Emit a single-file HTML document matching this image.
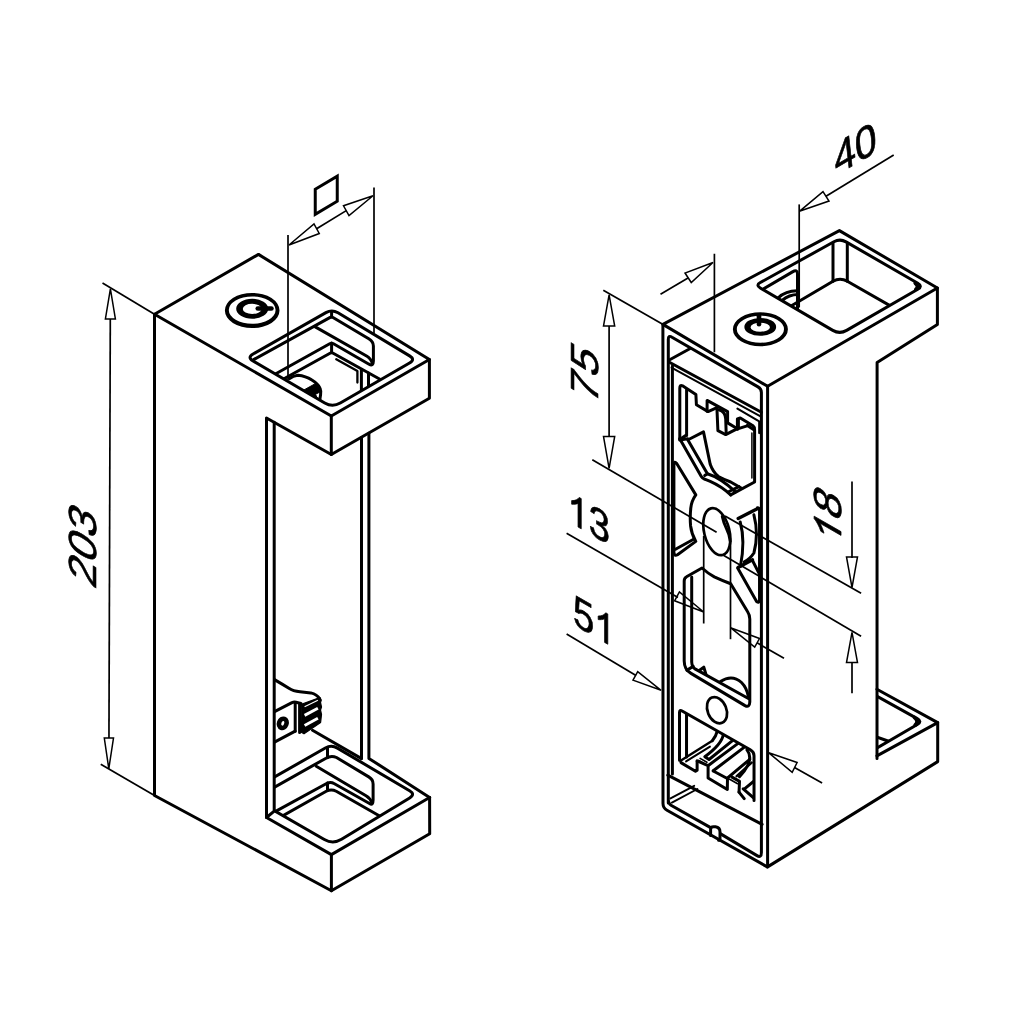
<!DOCTYPE html>
<html><head><meta charset="utf-8"><title>drawing</title>
<style>
html,body{margin:0;padding:0;background:#fff;}
svg{display:block;filter:grayscale(1)}
.k{fill:none;stroke:#000;stroke-width:3.0;stroke-linejoin:round;stroke-linecap:round}
.t{fill:none;stroke:#000;stroke-width:1.7;stroke-linecap:butt}
.a{fill:none;stroke:#000;stroke-width:1.5;stroke-linejoin:miter}
text{font-family:"Liberation Sans",sans-serif;fill:#000;stroke:#000;stroke-width:0.7;stroke-linejoin:round}
</style></head><body>
<svg width="1024" height="1024" viewBox="0 0 1024 1024">
<rect width="1024" height="1024" fill="#fff"/>
<g id="left">
<path class="k" d="M154.50,314.20 L258.50,254.40 L429.40,359.50 L331.30,416.00 Z" />
<path class="k" d="M331.30,416.00 L331.30,454.50 L429.40,398.30 L429.40,359.50" />
<path class="k" d="M331.30,454.50 L266.50,418.00 L266.50,817.50 L331.40,854.60 L429.60,797.50" />
<path class="k" d="M154.50,314.20 L154.50,795.50 L331.40,890.70 L429.70,833.80 L429.60,797.50" />
<path class="k" d="M331.40,854.60 L331.40,890.70" />
<path class="k" d="M274.20,422.30 L274.20,811.20 L266.50,817.50" />
<path class="k" d="M361.50,437.50 L361.50,758.60" />
<path class="k" d="M368.90,433.20 L368.90,758.40 L429.60,797.50" />
<path class="k" d="M312.50,730.30 L361.50,758.60" />
<clipPath id="hc0"><path d="M253.04,360.94 Q247.00,357.40 253.09,353.95 L325.91,312.65 Q332.00,309.20 338.00,312.81 L409.60,355.89 Q415.60,359.50 409.54,363.00 L340.29,403.00 Q332.50,407.50 324.73,402.95 Z"/></clipPath>
<g clip-path="url(#hc0)">
<path class="k" d="M253.60,359.60 L330.20,317.40 Q331.60,316.60 333.00,317.50 L368.75,338.75 Q373.40,341.50 373.40,346.00 L373.40,361.00 Q373.40,366.50 369.00,364.20 L333.50,343.80 Q331.60,342.70 329.70,343.80 L270.00,377.00" />
<path class="k" d="M315.25,326.90 L367.00,356.30 Q371.00,358.60 372.50,364.00" />
<path class="k" d="M270.00,386.50 L330.00,353.30 Q331.60,352.40 333.20,353.30 L384.00,381.50" />
<path class="k" d="M331.60,310.00 L331.60,316.90 M331.60,343.10 L331.60,352.50" />
<path class="k" d="M336.25,359.20 L357.40,371.00 L357.40,382.50" style="stroke-width:2.3"/>
<path class="k" d="M361.40,369.40 L361.40,392.00 M368.50,373.10 L368.50,388.00" />
<path class="k" d="M289.50,378.60 Q293.00,375.60 297.80,375.20 Q306.00,376.00 311.50,379.80 Q317.50,383.60 319.60,387.40 Q321.30,391.00 320.60,394.50 L319.80,400.00" />
<path d="M303.50,390.20 L316.10,383.20 L320.80,387.80 L320.90,391.60 L315.60,394.20 L317.20,398.60 L313.00,396.40 L312.50,394.80 Z" fill="#000" stroke="#000" stroke-width="1"/>
</g>
<path class="k" d="M253.04,360.94 Q247.00,357.40 253.09,353.95 L325.91,312.65 Q332.00,309.20 338.00,312.81 L409.60,355.89 Q415.60,359.50 409.54,363.00 L340.29,403.00 Q332.50,407.50 324.73,402.95 Z" />
<clipPath id="bh"><path d="M250.53,797.04 Q244.90,793.80 250.55,790.59 L325.32,748.06 Q331.40,744.60 337.43,748.16 L409.57,790.74 Q415.60,794.30 409.62,797.94 L341.55,839.31 Q333.00,844.50 324.33,839.51 Z"/></clipPath>
<clipPath id="bhb"><rect x="274.2" y="700" width="200" height="200"/></clipPath>
<g clip-path="url(#bhb)"><g clip-path="url(#bh)">
<path class="k" d="M270,789.7 L326,758.2 Q331.25,755 336.5,757.5 L368.75,776.9 Q373.1,779.5 373.1,784 L373.1,800 Q373.1,806 369.5,803.5 L334,783.5 Q331,781.6 327.5,783 L270,814.5" />
<path class="k" d="M327.5,747 L327.5,757.5 M327.5,783.1 L327.5,790.3" />
<path class="k" d="M316.25,766.25 L366,795.8 Q370.5,798.5 372,803" />
<path class="k" d="M270,823 L326.25,791.25 Q331.25,788.8 336.25,791.25 L384,818.5" />
</g>
<path class="k" d="M250.53,797.04 Q244.90,793.80 250.55,790.59 L325.32,748.06 Q331.40,744.60 337.43,748.16 L409.57,790.74 Q415.60,794.30 409.62,797.94 L341.55,839.31 Q333.00,844.50 324.33,839.51 Z" />
</g>
<path d="M224.90,310.50 A27.30,17.60 0 1 0 279.50,310.50 A27.30,17.60 0 1 0 224.90,310.50 Z M228.80,310.10 A23.40,13.70 0 1 0 275.60,310.10 A23.40,13.70 0 1 0 228.80,310.10 Z" fill="#000" fill-rule="evenodd"/>
<path d="M236.20,308.70 A16.00,10.00 0 1 0 268.20,308.70 A16.00,10.00 0 1 0 236.20,308.70 Z M242.80,308.90 A9.40,5.10 0 1 0 261.60,308.90 A9.40,5.10 0 1 0 242.80,308.90 Z" fill="#000" fill-rule="evenodd"/>
<line x1="257.8" y1="308.5" x2="271.4" y2="308.5" stroke="#000" stroke-width="4.7" stroke-linecap="round"/>
<polygon points="315.25,189.25 337.25,176.25 337.25,201.25 315.25,214.25" fill="none" stroke="#000" stroke-width="3.0"/>
<line class="t" x1="102.50" y1="283.00" x2="154.50" y2="314.20"/>
<line class="t" x1="100.75" y1="764.25" x2="154.50" y2="795.50"/>
<line class="t" x1="110.30" y1="319.00" x2="108.95" y2="738.00"/>
<polygon class="a" points="110.40,288.80 105.40,319.00 115.40,319.00"/>
<polygon class="a" points="108.80,768.80 104.30,738.00 113.50,738.00"/>
<line class="t" x1="288.00" y1="235.00" x2="288.00" y2="380.00"/>
<line class="t" x1="374.00" y1="187.50" x2="374.00" y2="333.40"/>
<line class="t" x1="316.60" y1="228.75" x2="346.25" y2="210.60"/>
<polygon class="a" points="289.00,245.00 314.00,224.00 319.25,233.50"/>
<polygon class="a" points="373.00,195.75 343.50,205.75 349.00,215.50"/>
<path class="k" d="M274.5,679.6 Q282,684 288.9,688.2 Q293,691 300,691.8 L310.8,692.9 Q317,694.5 319.6,698.6" />
<path class="k" d="M274.5,711.7 L292,702.6 Q294,701.8 296,702.3 L301,703.5" />
<path class="k" d="M274.5,742.1 L295.2,731.2" />
<path class="k" d="M295.2,703 L295.2,731.2 M299.6,703.5 L299.6,732.5" />
<ellipse cx="282.8" cy="723.3" rx="3.7" ry="4.7" fill="none" stroke="#000" stroke-width="4.6" transform="rotate(20 282.8 723.3)"/>
<polygon points="301.40,704.20 319.80,697.60 321.30,700.00 320.50,702.50 321.50,707.00 320.50,710.00 321.50,714.50 320.60,722.50 304.00,733.80 300.80,732.00" fill="#000" stroke="#000" stroke-width="1.2" stroke-linejoin="round"/>
<line x1="304.6" y1="706.8" x2="317.9" y2="700.2" stroke="#fff" stroke-width="1.2"/>
<line x1="304.6" y1="715.4" x2="317.9" y2="708.3" stroke="#fff" stroke-width="2.9"/>
<line x1="304.6" y1="725.5" x2="317.9" y2="718.2" stroke="#fff" stroke-width="2.9"/>
</g>
<g id="right">
<path class="k" d="M662.90,324.40 L839.40,230.60 L937.40,288.00 L767.60,386.30 Z" />
<path class="k" d="M937.40,288.00 L937.40,324.60 L877.10,362.40 L877.00,758.60" />
<path class="k" d="M662.9,324.4 L663,803.5 Q663,808 667,810.2 L767.3,866.9" />
<path class="k" d="M767.60,386.30 L767.60,866.90 L937.70,761.60 L937.70,722.60" />
<path class="k" d="M876.90,689.30 L937.70,722.60 L876.90,755.90" />
<clipPath id="rbh"><rect x="877" y="680" width="70" height="90"/></clipPath>
<g clip-path="url(#rbh)">
<path class="k" d="M794.12,727.36 Q790.00,723.00 794.35,718.87 L835.65,679.73 Q840.00,675.60 845.24,678.52 L917.26,718.58 Q922.50,721.50 917.31,724.51 L841.19,768.69 Q836.00,771.70 831.88,767.34 Z" />
<path class="k" d="M914.6,717.6 Q919.2,721.4 915.3,725.0" style="stroke-width:3.8"/>
<path class="k" d="M870,734.7 L887.9,741" />
</g>
<clipPath id="rth"><path d="M760.25,287.97 Q755.50,285.20 760.31,282.54 L833.88,241.79 Q840.00,238.40 846.07,241.89 L917.80,283.21 Q923.00,286.20 917.81,289.20 L846.62,330.39 Q839.70,334.40 832.79,330.36 Z"/></clipPath>
<g clip-path="url(#rth)">
<path class="k" d="M915.2,283.2 Q919.2,286.2 915.8,289.4" style="stroke-width:3.6"/>
<path class="k" d="M833,241 L833,281 M847.3,241 L847.3,281" />
<path class="k" d="M833,281.2 Q840,277.4 847.3,281.2" />
<path class="k" d="M833,281.2 L780,312.5 M847.3,281.2 L900,311.4" />
<path class="k" d="M760,291 L792.5,271.9 Q797.5,269 797.5,274 L797.5,310" />
<path class="k" d="M778,298 Q786,290.5 798,290.8 M782,300.5 Q789,294.5 798,294.5" />
</g>
<path class="k" d="M760.25,287.97 Q755.50,285.20 760.31,282.54 L833.88,241.79 Q840.00,238.40 846.07,241.89 L917.80,283.21 Q923.00,286.20 917.81,289.20 L846.62,330.39 Q839.70,334.40 832.79,330.36 Z" />
<path d="M732.90,329.30 A27.50,17.00 0 1 0 787.90,329.30 A27.50,17.00 0 1 0 732.90,329.30 Z M736.80,329.20 A23.60,13.50 0 1 0 784.00,329.20 A23.60,13.50 0 1 0 736.80,329.20 Z" fill="#000" fill-rule="evenodd"/>
<path d="M744.35,326.90 A15.90,8.90 0 1 0 776.15,326.90 A15.90,8.90 0 1 0 744.35,326.90 Z M750.55,327.20 A9.70,4.50 0 1 0 769.95,327.20 A9.70,4.50 0 1 0 750.55,327.20 Z" fill="#000" fill-rule="evenodd"/>
<line x1="759" y1="316.2" x2="759" y2="324.2" stroke="#000" stroke-width="4.6" stroke-linecap="round"/>
</g>
<g id="insert">
<path class="k" d="M668.3,803 L668.3,339.5 Q668.3,334.8 672,337.2 L758,386.9 Q761.4,388.9 761.4,392.5 L761.4,852.5 Q761.4,858.2 757,855.6 L720.6,833.9 M710.6,827.6 L671,805.2 Q668.3,803.6 668.3,800" />
<path class="k" d="M710.6,835.4 L710.6,829.5 Q710.6,826.8 713.5,826.8 L715.5,826.8 Q720,827.5 720,832 L720,838.5 Q720,840.5 718.6,840.2" />
<path class="k" d="M668.8,360.2 L689.75,348.75" />
<path class="k" d="M668.5,361.7 L761.4,412.2" />
<path class="k" d="M671.5,367.6 L761,416.6" style="stroke-width:1.9"/>
<path class="k" d="M672.4,366 L672.4,774" />
<path class="k" d="M737.4,408.7 L759.2,421.3 L759.2,433.1" style="stroke-width:2.1"/>
<path class="k" d="M667.8,775.1 L762.1,824.3" />
<path class="k" d="M670.5,798.4 L694.2,785.8 M671.9,802.6 L697.4,789" style="stroke-width:1.9"/>
<path class="k" d="M679.8,439.5 L679.8,388 Q679.8,384.4 682.5,385.8 L695.9,394.6 L696.4,404.8 L708.1,411.6 L716.9,407.7" />
<path class="k" d="M686.6,389.7 L686.6,435.6" />
<path class="k" d="M707.1,411.2 L707.1,400.4 L727.6,411.6 L727.6,422.9 L737.4,428.7" />
<path class="k" d="M716.9,407.7 L717.9,430.7 L725.7,434.6 L737.4,428.7" />
<path class="k" d="M718.8,409.7 Q725.5,411.5 725.7,419 L726.2,433.6" />
<path class="k" d="M737.4,429.2 L737.4,419 L740.3,418 L753,425.8 Q754.6,427 754.6,430 L754.6,482 L730.7,494.9" />
<path class="k" d="M738.4,420 L738.4,428.7 L747.1,425.8" />
<path class="k" d="M747.5,425.5 L753.5,429.5" style="stroke-width:3.2"/>
<path class="k" d="M751.9,433 L751.9,478" style="stroke-width:1.5"/>
<path class="k" d="M679.8,439.5 L685.6,435.6 M679.8,440 L687.6,438.8" />
<path class="k" d="M679.6,438.5 L701.3,476.5 Q702.5,478.5 704.7,479.2 L710.2,481.3 Q722,486.5 730.7,494.9" />
<path class="k" d="M687.6,439.5 L707.4,473.75 L704.7,475.6" />
<path class="k" d="M688.6,439.5 L703.5,431.9 L710.2,464.2 Q713,472 718.4,476.5 Q724,479.5 730.7,482 L742,488.5" />
<path class="k" d="M707.4,473.75 Q720,477.5 735.5,491.8" />
<path class="k" d="M729,491.5 L739,486.6" />
<path class="k" d="M673.9,553 L673.9,464.5 Q674.2,460.5 676.7,463.5 L695.8,494.9 Q691.5,501 690.8,508 Q689.8,517 690.6,526 Q691.5,534 695.8,541.4 L677.5,554.8 Q674.2,556.6 673.9,552" />
<path class="k" d="M675.5,549.3 L693.6,539.3" />
<ellipse cx="716.8" cy="531.7" rx="12.6" ry="24" fill="none" stroke="#000" stroke-width="2.7" transform="rotate(-14 716.8 531.7)"/>
<path class="k" d="M722.3,516.5 Q723.5,522.5 726.4,528.4 Q729.3,534 730.2,541" style="stroke-width:3"/>
<path class="k" d="M738.2,518.5 L757.3,508.7" style="stroke-width:3.4"/>
<path class="k" d="M757.5,507.8 Q759.6,508 759.6,511 L759.6,600 Q759.3,603.5 756.6,601.5 L737.8,568.3" />
<path class="k" d="M740.2,522 Q745.5,541 740.4,566.5" />
<path class="k" d="M753.9,514.8 Q759,534 753.9,553 Q750,559 744.3,561.8" />
<path class="k" d="M738,567.5 L752.5,559.8" style="stroke-width:3.4"/>
<path class="k" d="M752.5,560.5 L759.4,574.2" />
<path class="k" d="M759.8,512 L759.8,600" style="stroke-width:3"/>
<path class="k" d="M684.2,661 L684.2,581 Q684.2,578 686.5,576.8 L702,568 Q708,573.5 714.3,576.9 Q722,580.5 730.7,583.75 L747.5,611.5 Q749.8,615 749.8,619 L749.8,702 Q749.6,708 745,705.6 L691,673.4 Q684.2,669.5 684.2,661" />
<path class="k" d="M691.7,577 L691.7,662 Q692,667.2 695,668.9 L748.4,698.5" />
<path class="k" d="M686.8,670.3 L693.2,666.4" />
<path class="k" d="M720.4,681.6 Q732,674 741.5,682.5 Q747,688 748.4,697" />
<path class="k" d="M699.2,670.5 L703.8,667.2 L706,674.4" />
<ellipse cx="717" cy="710.2" rx="9.4" ry="13.6" fill="none" stroke="#000" stroke-width="2.7" transform="rotate(-22 717 710.2)"/>
<clipPath id="bc"><path d="M679.50,760.25 L679.50,712.44 Q679.50,709.44 682.12,710.94 L750.28,749.75 Q754.03,751.81 754.03,755.75 L754.03,808.06 L679.50,768.69 Z"/></clipPath>
<g clip-path="url(#bc)">
<path class="k" d="M686.53,714.50 L686.53,756.97" />
<path class="k" d="M679.50,760.25 Q679.69,761.94 681.37,762.87 L695.44,771.31 L697.12,770.19 L697.12,761.37" />
<path class="k" d="M681.37,760.25 L712.31,740.75" style="stroke-width:2.4"/>
<path class="k" d="M686.06,761.37 L709.97,746.66" style="stroke-width:2"/>
<path class="k" d="M712.31,740.75 Q716.06,736.34 717.47,730.72" />
<path class="k" d="M723.37,734.47 Q721.69,744.31 704.81,756.69 L709.03,759.50 L732.47,740.56" />
<path class="k" d="M697.12,760.81 L708.09,765.69 L708.09,778.06 L727.31,789.50 L727.50,778.25" />
<path class="k" d="M709.03,764.94 L738.09,743.37" style="stroke-width:3"/>
<path class="k" d="M713.25,770.75 L743.72,747.59" style="stroke-width:3"/>
<path class="k" d="M713.25,771.03 L727.31,778.53" />
<path class="k" d="M727.31,778.06 L749.81,759.31" />
<path class="k" d="M732.00,777.12 L739.50,781.34 L739.03,792.12" />
<path class="k" d="M736.69,776.19 L751.69,762.59" style="stroke-width:2.4"/>
<path class="k" d="M747.00,749.94 Q752.16,756.50 747.47,765.87 Q744.66,771.50 739.50,776.66" />
<path class="k" d="M739.03,792.12 L744.19,798.69 M743.25,788.84 L753.56,797.75 M745.12,788.37 L753.56,781.34" />
<path class="k" d="M700.12,758.37 L706.87,762.31 M698.72,760.44 L705.75,764.47" style="stroke-width:1.6"/>
<path class="k" d="M729.19,779.00 L737.62,783.69" style="stroke-width:1.6"/>
</g>
<path class="k" d="M679.50,760.25 L679.50,712.44 Q679.50,709.44 682.12,710.94 L750.28,749.75 Q754.03,751.81 754.03,755.75 L754.03,800.56" />
</g>
<g id="dims">
<g transform="matrix(0.0000,-1.0000,0.8700,0.5000,95.73,590.28)">
<text x="0.00" y="0" font-size="45">2</text>
<text x="25.03" y="0" font-size="45">0</text>
<text x="50.05" y="0" font-size="45">3</text>
</g>
<g transform="matrix(0.0000,-1.0000,0.8700,0.5000,597.83,405.93)">
<text x="0.00" y="0" font-size="45">7</text>
<text x="26.53" y="0" font-size="45">5</text>
</g>
<g transform="matrix(0.0000,-1.0000,0.8700,0.5000,841.03,547.67)">
<path d="M763,0 H583 V1147 Q518,1085 412.5,1023 Q307,961 223,930 V1104 Q374,1175 487,1276 Q600,1377 647,1472 H763 Z" transform="translate(0.00,0) scale(0.02103,-0.02103)" fill="#000" stroke="#000" stroke-width="33.3" stroke-linejoin="round"/>
<text x="25.03" y="0" font-size="45">8</text>
</g>
<g transform="matrix(0.8660,0.5000,0.0000,1.0000,567.66,521.02)">
<path d="M763,0 H583 V1147 Q518,1085 412.5,1023 Q307,961 223,930 V1104 Q374,1175 487,1276 Q600,1377 647,1472 H763 Z" transform="translate(0.00,0) scale(0.02056,-0.02056)" fill="#000" stroke="#000" stroke-width="34.0" stroke-linejoin="round"/>
<text x="24.47" y="0" font-size="44">3</text>
</g>
<g transform="matrix(0.8660,0.5000,0.0000,1.0000,573.02,624.18)">
<text x="0.00" y="0" font-size="44">5</text>
<path d="M763,0 H583 V1147 Q518,1085 412.5,1023 Q307,961 223,930 V1104 Q374,1175 487,1276 Q600,1377 647,1472 H763 Z" transform="translate(24.47,0) scale(0.02056,-0.02056)" fill="#000" stroke="#000" stroke-width="34.0" stroke-linejoin="round"/>
</g>
<g transform="matrix(0.8660,-0.5000,0.1100,1.0000,835.67,175.57)">
<text x="0.00" y="0" font-size="44">4</text>
<text x="24.47" y="0" font-size="44">0</text>
</g>
<line class="t" x1="603.30" y1="290.20" x2="662.70" y2="324.20"/>
<line class="t" x1="609.10" y1="326.10" x2="609.10" y2="436.40"/>
<polygon class="a" points="609.10,294.80 603.50,326.10 614.70,326.10"/>
<polygon class="a" points="609.10,468.40 603.50,436.40 614.70,436.40"/>
<line class="t" x1="592.30" y1="459.80" x2="716.60" y2="532.30"/>
<line class="t" x1="566.60" y1="533.30" x2="678.00" y2="597.50"/>
<polygon class="a" points="703.70,612.00 679.40,592.00 674.60,600.80"/>
<polygon class="a" points="730.50,627.70 759.50,638.50 754.70,647.20"/>
<line class="t" x1="757.00" y1="642.80" x2="784.00" y2="658.20"/>
<line class="t" x1="703.70" y1="536.00" x2="703.70" y2="623.50"/>
<line class="t" x1="730.50" y1="541.00" x2="730.50" y2="639.20"/>
<line class="t" x1="566.60" y1="634.10" x2="636.00" y2="675.50"/>
<polygon class="a" points="661.10,690.30 637.70,671.60 633.00,680.20"/>
<polygon class="a" points="768.80,752.80 797.10,762.50 792.20,772.30"/>
<line class="t" x1="794.50" y1="767.40" x2="822.10" y2="783.00"/>
<line class="t" x1="852.00" y1="481.40" x2="852.00" y2="558.00"/>
<polygon class="a" points="852.00,587.50 846.50,557.00 857.50,557.00"/>
<polygon class="a" points="852.00,632.30 846.50,662.60 857.50,662.60"/>
<line class="t" x1="852.00" y1="662.00" x2="852.00" y2="693.20"/>
<line class="t" x1="725.00" y1="516.00" x2="861.10" y2="593.30"/>
<line class="t" x1="723.40" y1="555.20" x2="861.10" y2="636.25"/>
<line class="t" x1="714.40" y1="253.75" x2="714.40" y2="352.30"/>
<line class="t" x1="799.20" y1="204.40" x2="799.20" y2="307.50"/>
<line class="t" x1="660.50" y1="294.25" x2="688.00" y2="278.00"/>
<polygon class="a" points="713.00,262.50 685.00,273.00 691.25,282.50"/>
<polygon class="a" points="799.40,211.30 823.00,191.60 829.00,201.00"/>
<line class="t" x1="826.00" y1="196.30" x2="893.70" y2="155.10"/>
</g>
</svg>
</body></html>
